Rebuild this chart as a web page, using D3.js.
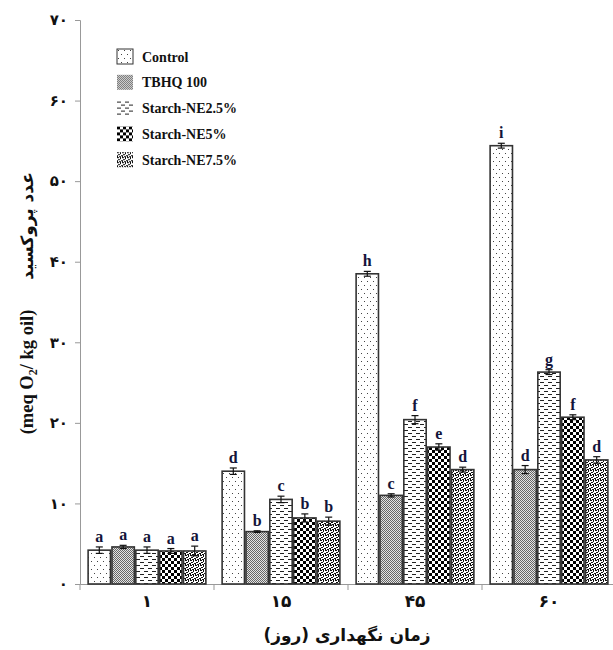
<!DOCTYPE html>
<html lang="fa">
  <head>
    <meta charset="UTF-8" />
    <title>Peroxide value</title>
    <script src="https://cdn.jsdelivr.net/npm/d3@7/dist/d3.min.js"></script>
    <style>
      body { margin: 0; background: #fff; }
      .lat { font-family: "Liberation Serif", "Times New Roman", serif; font-weight: bold; }
      .fa { font-family: "DejaVu Sans", sans-serif; font-weight: bold; }
    </style>
  </head>
  <body>
    <svg width="613" height="650"></svg>
    <script>
      const days = ["۱", "۱۵", "۴۵", "۶۰"];
      const series = ["Control", "TBHQ 100", "Starch-NE2.5%", "Starch-NE5%", "Starch-NE7.5%"];
      const values = [
        [4.2, 14.0, 38.5, 54.4],
        [4.6, 6.5, 11.0, 14.2],
        [4.2, 10.5, 20.4, 26.3],
        [4.1, 8.2, 17.0, 20.7],
        [4.1, 7.8, 14.2, 15.4],
      ];
      const errors = [
        [0.4, 0.4, 0.3, 0.3],
        [0.2, 0.1, 0.2, 0.5],
        [0.4, 0.4, 0.5, 0.3],
        [0.3, 0.5, 0.4, 0.3],
        [0.6, 0.5, 0.3, 0.4],
      ];
      const letters = [
        ["a", "d", "h", "i"],
        ["a", "b", "c", "d"],
        ["a", "c", "f", "g"],
        ["a", "b", "e", "f"],
        ["a", "b", "d", "d"],
      ];
      const yTicks = [0, 10, 20, 30, 40, 50, 60, 70];
      const faDigits = "۰۱۲۳۴۵۶۷۸۹";
      const toFa = (n) => String(n).replace(/\d/g, (d) => faDigits[+d]);

      const svg = d3.select("svg");
      const defs = svg.append("defs");

      // fill patterns, one per series; cells = [x, y, w, h, colour]
      function pat(id, w, h, bg, cells) {
        const p = defs.append("pattern").attr("id", id)
          .attr("patternUnits", "userSpaceOnUse").attr("width", w).attr("height", h);
        p.append("rect").attr("width", w).attr("height", h).attr("fill", bg);
        cells.forEach((c) => p.append("rect").attr("x", c[0]).attr("y", c[1])
          .attr("width", c[2]).attr("height", c[3]).attr("fill", c[4]));
      }
      pat("p0", 6, 8, "#fff", [[1, 1, 1, 1, "#444"], [4, 5, 1, 1, "#444"]]);
      pat("p1", 2, 2, "#e4e4e4", [[0, 0, 1, 1, "#666"], [1, 1, 1, 1, "#666"]]);
      pat("p2", 8, 6, "#fff", [[0, 1, 4, 1, "#222"], [4, 4, 4, 1, "#222"]]);
      pat("p3", 6, 6, "#fff", [[0, 0, 3, 3, "#000"], [3, 3, 3, 3, "#000"]]);
      pat("p4", 5, 5, "#fff", [
        [0, 0, 2, 1, "#111"], [3, 0, 1, 2, "#111"], [1, 2, 2, 1, "#111"],
        [0, 3, 1, 2, "#111"], [2, 4, 2, 1, "#111"], [4, 3, 1, 1, "#111"],
      ]);

      const x0 = d3.scaleBand().domain(days).range([80, 616]).paddingInner(0.11).paddingOuter(0.055);
      const x1 = d3.scaleBand().domain(d3.range(series.length)).range([0, x0.bandwidth()]);
      const y = d3.scaleLinear().domain([0, 70]).range([584, 20]);

      // y axis
      const yAxis = svg.append("g").attr("transform", "translate(80,0)")
        .call(d3.axisLeft(y).tickValues(yTicks).tickSize(5).tickFormat(toFa));
      yAxis.select(".domain").attr("stroke", "#999");
      yAxis.selectAll(".tick line").attr("stroke", "#999");
      yAxis.selectAll("text").attr("class", "fa").attr("font-size", 15).attr("fill", "#111").attr("x", -12);

      // x axis
      const xAxis = svg.append("g").attr("transform", "translate(0,584)")
        .call(d3.axisBottom(x0).tickSize(0).tickPadding(11));
      xAxis.select(".domain").attr("stroke", "#999");
      xAxis.selectAll("text").attr("class", "fa").attr("font-size", 17).attr("fill", "#111");
      xAxis.selectAll(".sep").data(d3.range(days.length + 1)).enter().append("line")
        .attr("x1", (i) => 80 + i * x0.step()).attr("x2", (i) => 80 + i * x0.step())
        .attr("y1", 0).attr("y2", 6).attr("stroke", "#999");

      // bars
      const rows = [];
      days.forEach((d, gi) => series.forEach((s, si) => rows.push({
        d, si, v: values[si][gi], e: errors[si][gi], l: letters[si][gi],
      })));
      svg.append("g").selectAll("rect").data(rows).enter().append("rect")
        .attr("x", (r) => x0(r.d) + x1(r.si) + 0.75)
        .attr("y", (r) => y(r.v))
        .attr("width", x1.bandwidth() - 1.5)
        .attr("height", (r) => y(0) - y(r.v))
        .attr("fill", (r) => `url(#p${r.si})`)
        .attr("stroke", "#333").attr("stroke-width", 1.6);

      const eb = svg.append("g").attr("stroke", "#111").attr("stroke-width", 1.2);
      rows.forEach((r) => {
        const cx = x0(r.d) + x1(r.si) + x1.bandwidth() / 2;
        eb.append("line").attr("x1", cx).attr("x2", cx).attr("y1", y(r.v + r.e)).attr("y2", y(r.v - r.e));
        eb.append("line").attr("x1", cx - 3.5).attr("x2", cx + 3.5).attr("y1", y(r.v + r.e)).attr("y2", y(r.v + r.e));
        eb.append("line").attr("x1", cx - 3.5).attr("x2", cx + 3.5).attr("y1", y(r.v - r.e)).attr("y2", y(r.v - r.e));
      });

      svg.append("g").selectAll("text").data(rows).enter().append("text")
        .attr("class", "lat").attr("font-size", 16).attr("fill", "#14143a")
        .attr("text-anchor", "middle")
        .attr("x", (r) => x0(r.d) + x1(r.si) + x1.bandwidth() / 2)
        .attr("y", (r) => y(r.v + r.e) - 5)
        .text((r) => r.l);

      // legend
      const lg = svg.append("g").attr("transform", "translate(117,49)");
      series.forEach((s, i) => {
        const row = lg.append("g").attr("transform", `translate(0,${i * 25.8})`);
        row.append("rect").attr("width", 16).attr("height", 15)
          .attr("fill", `url(#p${i})`).attr("stroke", i === 0 ? "#333" : "none");
        row.append("text").attr("class", "lat").attr("font-size", 14).attr("fill", "#111")
          .attr("x", 25).attr("y", 12.5).text(s);
      });

      // axis titles
      svg.append("text").attr("class", "fa").attr("font-size", 17).attr("fill", "#111")
        .attr("text-anchor", "middle").attr("x", 347).attr("y", 641)
        .text("زمان نگهداری (روز)");
      const yt = svg.append("text").attr("class", "lat").attr("font-size", 18.5).attr("fill", "#111")
        .attr("text-anchor", "middle").attr("transform", "translate(33,372) rotate(-90)");
      yt.append("tspan").text("(meq O");
      yt.append("tspan").attr("font-size", 12).attr("dy", 4).text("2");
      yt.append("tspan").attr("dy", -4).text("/ kg oil)");
      svg.append("text").attr("class", "fa").attr("font-size", 17).attr("fill", "#111")
        .attr("text-anchor", "middle").attr("transform", "translate(33,226) rotate(-90)")
        .text("عدد پروکسید");
    </script>
  </body>
</html>
